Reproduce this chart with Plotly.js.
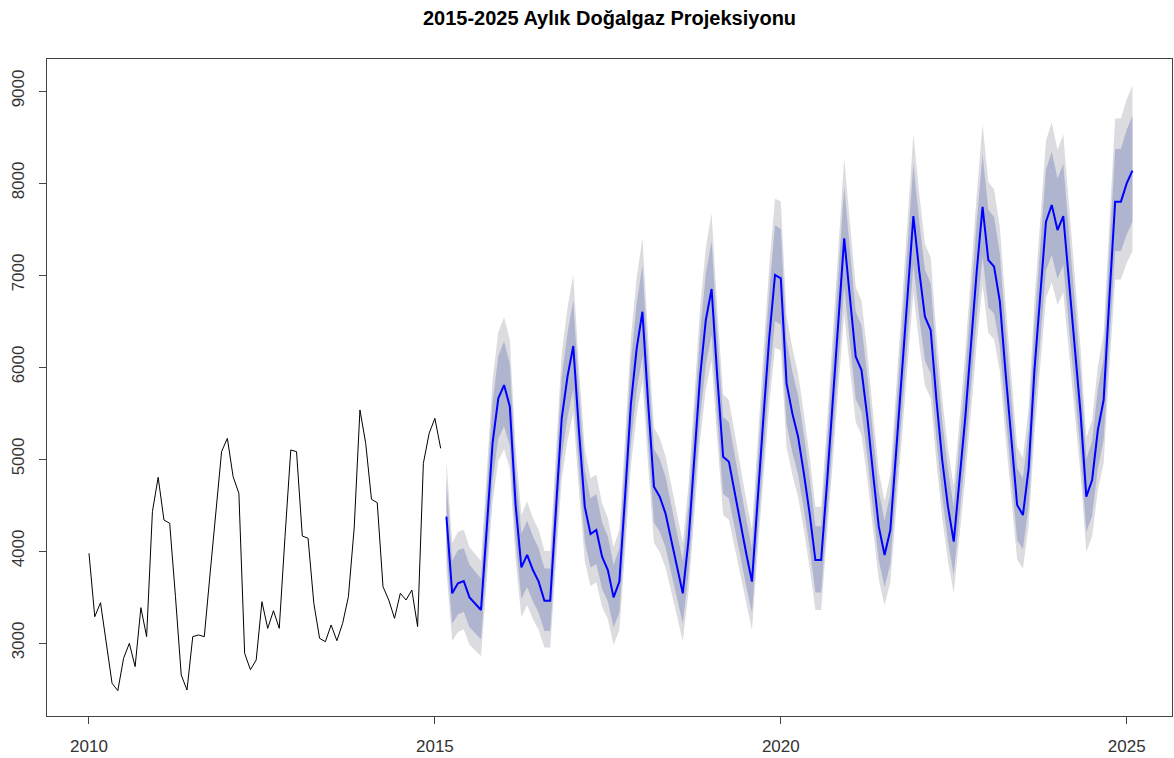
<!DOCTYPE html>
<html>
<head>
<meta charset="utf-8">
<script src="https://cdn.plot.ly/plotly-3.0.1.min.js"></script>
<style>html,body{margin:0;padding:0;background:#fff;}#chart{width:1174px;height:758px;}</style>
</head>
<body>
<div id="chart"></div>
<script>
// Monthly series: history starts Jan 2010, forecast starts Mar 2015 (monthly)
const histStartYear = 2010;
const histStartMonth = 0;   // January
const fcStartYear = 2015;
const fcStartMonth = 2;     // March

const histValues = [3975,3286,3438,3000,2562,2482,2834,2996,2743,3384,
  3069,4427,4801,4337,4301,3503,2652,2489,3069,3087,
  3069,3750,4450,5080,5225,4808,4627,2888,2710,2815,
  3449,3159,3351,3159,4156,5098,5080,4163,4138,3431,
  3051,3014,3196,3025,3214,3504,4250,5533,5170,4562,
  4525,3612,3467,3268,3540,3467,3576,3178,4953,5279,
  5442,5116];

const fcMean = [4373,3540,3649,3674,3496,3431,3359,4250,5170,5659,
  5804,5569,4500,3822,3957,3793,3667,3460,3460,4450,
  5442,5895,6228,5300,4482,4185,4228,3938,3793,3496,
  3667,4600,5600,6200,6601,5600,4699,4590,4409,4120,
  3830,3540,4120,5062,5895,6511,6848,5880,5025,4971,
  4627,4301,3975,3667,4601,5460,6319,7000,6964,5822,
  5496,5243,4845,4409,3902,3902,4725,5627,6529,7399,
  6750,6112,5967,5460,4845,4264,3957,4228,5072,5917,
  6761,7641,7050,6547,6402,5641,4989,4482,4101,4750,
  5450,6250,7050,7740,7163,7091,6710,5931,5207,4500,
  4391,4900,5967,6764,7580,7761,7489,7641,6946,6221,
  5496,4591,4772,5315,5641,6750,7797,7797,7996,8134];

const fcHi95 = [4990,4090,4210,4230,4040,3970,3890,4860,5850,6380,
  6540,6290,5130,4390,4540,4360,4230,4000,4000,5070,
  6150,6640,7000,5990,5110,4790,4830,4520,4360,4040,
  4230,5240,6320,6970,7400,6320,5340,5230,5030,4720,
  4400,4090,4720,5740,6640,7300,7670,6620,5700,5640,
  5270,4910,4560,4230,5240,6170,7100,7830,7800,6560,
  6210,5930,5500,5030,4480,4480,5370,6350,7320,8270,
  7560,6870,6720,6170,5500,4870,4540,4830,5750,6660,
  7580,8530,7890,7340,7190,6360,5660,5110,4700,5400,
  6160,7020,7890,8640,8010,7930,7520,6680,5890,5130,
  5010,5560,6720,7580,8460,8660,8360,8530,7780,6990,
  6210,5230,5420,6010,6360,7560,8700,8700,8910,9060];

const fcLo95 = [3790,3020,3120,3150,2980,2920,2860,3680,4530,4980,
  5110,4890,3910,3280,3410,3260,3140,2950,2950,3860,
  4780,5200,5500,4650,3890,3620,3660,3390,3260,2980,
  3140,4000,4920,5480,5850,4920,4090,3990,3820,3560,
  3290,3020,3560,4430,5200,5760,6070,5180,4390,4340,
  4030,3730,3420,3140,4000,4790,5590,6210,6180,5130,
  4830,4590,4230,3820,3360,3360,4120,4950,5780,6580,
  5980,5400,5260,4790,4230,3690,3410,3660,4440,5220,
  5990,6810,6260,5800,5660,4960,4360,3890,3540,4140,
  4790,5520,6260,6900,6370,6300,5950,5230,4560,3910,
  3810,4280,5260,5990,6750,6920,6670,6810,6160,5500,
  4830,3990,4160,4660,4960,5980,6950,6950,7130,7260];

const fcHi80 = [4770,3890,4010,4030,3850,3780,3700,4640,5610,6120,
  6280,6030,4900,4190,4330,4160,4030,3810,3810,4850,
  5890,6370,6720,5750,4880,4570,4620,4310,4160,3850,
  4030,5010,6060,6690,7110,6060,5110,5000,4810,4500,
  4200,3890,4500,5490,6370,7020,7370,6360,5460,5400,
  5040,4690,4350,4030,5010,5910,6820,7540,7500,6290,
  5950,5690,5270,4810,4270,4270,5140,6090,7040,7960,
  7270,6600,6450,5910,5270,4650,4330,4620,5510,6390,
  7280,8210,7590,7060,6910,6100,5420,4880,4480,5170,
  5900,6750,7590,8310,7710,7630,7230,6410,5650,4900,
  4790,5320,6450,7280,8150,8340,8050,8210,7480,6710,
  5950,5000,5190,5760,6100,7270,8370,8370,8580,8730];

const fcLo80 = [4000,3210,3310,3340,3170,3110,3040,3880,4760,5220,
  5360,5140,4120,3480,3610,3450,3330,3130,3130,4070,
  5020,5450,5760,4880,4100,3820,3860,3590,3450,3170,
  3330,4220,5170,5740,6120,5170,4310,4210,4040,3760,
  3490,3210,3760,4660,5450,6030,6350,5430,4620,4570,
  4240,3930,3620,3330,4220,5030,5850,6500,6460,5380,
  5070,4830,4450,4040,3550,3550,4340,5190,6050,6880,
  6260,5650,5520,5030,4450,3900,3610,3860,4670,5470,
  6270,7110,6550,6070,5930,5210,4590,4100,3740,4360,
  5030,5790,6550,7200,6650,6580,6220,5480,4790,4120,
  4020,4500,5520,6270,7050,7220,6960,7110,6450,5760,
  5070,4210,4380,4900,5210,6260,7260,7260,7440,7580];

const xTickVals = [2010, 2015, 2020, 2025];
const xTickText = ['2010', '2015', '2020', '2025'];
const yTickVals = [3000, 4000, 5000, 6000, 7000, 8000, 9000];
const titleText = '2015-2025 Aylık Doğalgaz Projeksiyonu';

// time index -> decimal year (like an R ts object)
const toTime = (y0, m0, n) => Array.from({length: n}, (_, k) => y0 + (m0 + k) / 12);
const xHist = toTime(histStartYear, histStartMonth, histValues.length);
const xFc = toTime(fcStartYear, fcStartMonth, fcMean.length);

const FONT = 'Liberation Sans, Arial, sans-serif';
const lightBand = '#DBDBE0';
const darkBand = '#B0B5CF';

const traces = [
  {x: xFc, y: fcLo95, mode: 'lines', line: {width: 0}, hoverinfo: 'skip', showlegend: false},
  {x: xFc, y: fcHi95, mode: 'lines', line: {width: 0}, fill: 'tonexty', fillcolor: lightBand, hoverinfo: 'skip', showlegend: false},
  {x: xFc, y: fcLo80, mode: 'lines', line: {width: 0}, hoverinfo: 'skip', showlegend: false},
  {x: xFc, y: fcHi80, mode: 'lines', line: {width: 0}, fill: 'tonexty', fillcolor: darkBand, hoverinfo: 'skip', showlegend: false},
  {x: xHist, y: histValues, mode: 'lines', line: {color: '#000000', width: 1}, showlegend: false},
  {x: xFc, y: fcMean, mode: 'lines', line: {color: '#0000FF', width: 2}, showlegend: false}
];

const layout = {
  width: 1174, height: 758,
  margin: {l: 47, r: 2, t: 59, b: 42, pad: 0},
  paper_bgcolor: '#ffffff', plot_bgcolor: '#ffffff',
  font: {family: FONT, size: 17, color: '#333333'},
  title: {
    text: '<b>' + titleText + '</b>',
    font: {family: FONT, size: 20, color: '#000000'},
    x: 0.5, xref: 'paper', xanchor: 'center',
    y: 1 - 18 / 758, yref: 'container', yanchor: 'middle'
  },
  xaxis: {
    range: [2009.393, 2025.655], tickmode: 'array', tickvals: xTickVals, ticktext: xTickText,
    ticks: 'outside', ticklen: 7, tickwidth: 1, tickcolor: '#444444',
    showline: true, linecolor: '#444444', linewidth: 1, mirror: true,
    showgrid: false, zeroline: false, ticklabelstandoff: 8,
    tickfont: {family: FONT, size: 17, color: '#333333'}
  },
  yaxis: {
    range: [2206.5, 9347.8], tickmode: 'array', tickvals: yTickVals,
    ticks: 'outside', ticklen: 7, tickwidth: 1, tickcolor: '#444444',
    showline: true, linecolor: '#444444', linewidth: 1, mirror: true,
    showgrid: false, zeroline: false, tickangle: -90, ticklabelstandoff: 8,
    tickfont: {family: FONT, size: 17, color: '#333333'}
  }
};

Plotly.newPlot('chart', traces, layout, {displayModeBar: false, staticPlot: true});
</script>
</body>
</html>
